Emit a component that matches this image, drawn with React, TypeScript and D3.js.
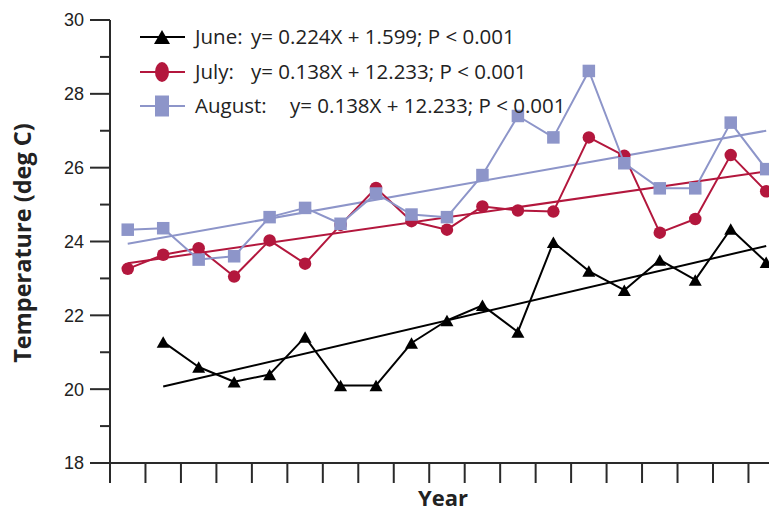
import React from "react";
import * as d3 from "d3";

const years = d3.range(1981, 2000);
const june: (number | null)[] = [null, 21.28, 20.6, 20.2, 20.4, 21.41, 20.1, 20.1, 21.25, 21.86, 22.27, 21.55, 23.98, 23.2, 22.68, 23.5, 22.96, 24.34, 23.44];
const july: (number | null)[] = [23.26, 23.64, 23.82, 23.05, 24.03, 23.4, 24.45, 25.45, 24.55, 24.32, 24.95, 24.84, 24.81, 26.82, 26.32, 24.24, 24.61, 26.34, 25.36];
const august: (number | null)[] = [24.32, 24.36, 23.51, 23.6, 24.66, 24.91, 24.48, 25.3, 24.73, 24.66, 25.8, 27.4, 26.82, 28.62, 26.12, 25.44, 25.44, 27.22, 25.96];

const seriesNames = ["June", "July", "August"];
const seriesEquations = [
  "y= 0.224X + 1.599; P < 0.001",
  "y= 0.138X + 12.233; P < 0.001",
  "y= 0.138X + 12.233; P < 0.001",
];
const trendSlopes = [0.224, 0.138, 0.170];
const trendIntercepts = [1.702, 12.233, 10.17];
const trendStartYears = [1982, 1981, 1981];
const trendEndYears = [1999, 1999, 1999];

const yMajorTicks = [18, 20, 22, 24, 26, 28, 30];
const yMinorTicks = [19, 21, 23, 25, 27, 29];

const colors = ["#000000", "#b3173d", "#8d95c9"];
const shapes = ["triangle", "circle", "square"];

const W = 769;
const H = 511;

function Marker({ shape, cx, cy, color, w, h }: { shape: string; cx: number; cy: number; color: string; w: number; h: number }) {
  if (shape === "triangle") {
    const p = `M${cx},${cy - h / 2}L${cx + w / 2},${cy + h / 2}L${cx - w / 2},${cy + h / 2}Z`;
    return <path d={p} fill={color} />;
  }
  if (shape === "circle") {
    return <ellipse cx={cx} cy={cy} rx={w / 2} ry={h / 2} fill={color} />;
  }
  return <rect x={cx - w / 2} y={cy - h / 2} width={w} height={h} fill={color} />;
}

export default function App() {
  const bandW = 35.47;
  const x = d3.scaleBand<number>().domain(years).range([110, 110 + bandW * years.length]).padding(0);
  const xc = (yr: number) => (x(yr) as number) + x.bandwidth() / 2;
  const y = d3.scaleLinear().domain([18, 30]).range([463, 20]);

  const data = [june, july, august];
  const line = d3
    .line<[number, number | null]>()
    .defined((d) => d[1] != null)
    .x((d) => xc(d[0]))
    .y((d) => y(d[1] as number));

  const boundaries = d3.range(0, years.length + 1).map((k) => 110 + k * x.bandwidth());

  const legendRows = [37, 72, 106];
  const legendBase = [44, 79, 113];
  const eqX = [251, 251, 290];

  return (
    <svg width={W} height={H} style={{ position: "absolute", left: 0, top: 0 }} xmlns="http://www.w3.org/2000/svg">
      <rect width={W} height={H} fill="#ffffff" />
      {/* axes */}
      <g stroke="#2a2a2a" strokeWidth={2} fill="none">
        <line x1={110} y1={20} x2={110} y2={483} />
        <line x1={110} y1={463} x2={boundaries[boundaries.length - 1]} y2={463} />
        {yMajorTicks.map((t) => (
          <line key={"M" + t} x1={90} x2={110} y1={y(t)} y2={y(t)} />
        ))}
        {yMinorTicks.map((t) => (
          <line key={"m" + t} x1={100} x2={110} y1={y(t)} y2={y(t)} />
        ))}
        {boundaries.map((b, i) => (
          <line key={"x" + i} x1={b} x2={b} y1={463} y2={483} />
        ))}
      </g>
      <g fontFamily="'Liberation Sans', Arial, sans-serif" fontSize={18} fill="#222" textAnchor="end">
        {yMajorTicks.map((t) => (
          <text key={"l" + t} x={84} y={y(t)} dy="0.36em">
            {t}
          </text>
        ))}
      </g>
      <text
        transform="translate(31,243) rotate(-90)"
        textAnchor="middle"
        fontFamily="'Open Sans', sans-serif"
        fontWeight="bold"
        fontSize={23.5}
        fill="#222"
      >
        Temperature (deg C)
      </text>
      <text x={443} y={506} textAnchor="middle" fontFamily="'Open Sans', sans-serif" fontWeight="bold" fontSize={22} fill="#222">
        Year
      </text>

      {/* trend lines */}
      {seriesNames.map((s, i) => (
        <line
          key={"t" + s}
          x1={xc(trendStartYears[i])}
          y1={y(trendSlopes[i] * (trendStartYears[i] - 1900) + trendIntercepts[i])}
          x2={xc(trendEndYears[i])}
          y2={y(trendSlopes[i] * (trendEndYears[i] - 1900) + trendIntercepts[i])}
          stroke={colors[i]}
          strokeWidth={2}
        />
      ))}

      {/* series */}
      {data.map((vals, i) => {
        const pts = years.map((yr, j) => [yr, vals[j]] as [number, number | null]);
        return (
          <g key={"s" + i}>
            <path d={line(pts) || ""} fill="none" stroke={colors[i]} strokeWidth={2} strokeLinejoin="round" />
            {pts
              .filter((p) => p[1] != null)
              .map((p) => (
                <Marker
                  key={p[0]}
                  shape={shapes[i]}
                  cx={xc(p[0])}
                  cy={y(p[1] as number)}
                  color={colors[i]}
                  w={shapes[i] === "triangle" ? 13 : 12.5}
                  h={shapes[i] === "triangle" ? 11.5 : 12.5}
                />
              ))}
          </g>
        );
      })}

      {/* legend */}
      {seriesNames.map((s, i) => (
        <g key={"lg" + s}>
          <line x1={140} x2={185} y1={legendRows[i]} y2={legendRows[i]} stroke={colors[i]} strokeWidth={2} />
          <Marker
            shape={shapes[i]}
            cx={162}
            cy={legendRows[i]}
            color={colors[i]}
            w={shapes[i] === "triangle" ? 16 : 14}
            h={shapes[i] === "triangle" ? 14 : shapes[i] === "circle" ? 20 : 21}
          />
          <text x={195} y={legendBase[i]} fontFamily="'Open Sans', sans-serif" fontSize={20.5} fill="#222">
            {s + ":"}
          </text>
          <text x={eqX[i]} y={legendBase[i]} fontFamily="'Open Sans', sans-serif" fontSize={20.5} fill="#222">
            {seriesEquations[i]}
          </text>
        </g>
      ))}
    </svg>
  );
}
